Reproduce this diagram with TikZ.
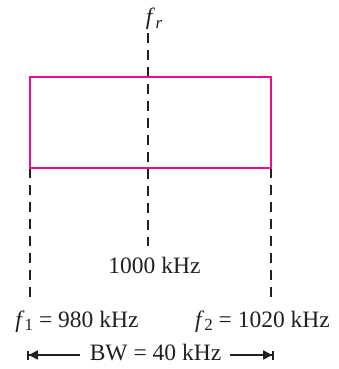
\documentclass[tikz,border=0pt]{standalone}
\usepackage{fontspec}
\setmainfont{Liberation Serif}
\usetikzlibrary{arrows.meta}
\definecolor{bandpink}{HTML}{E8108A}
\definecolor{inkdark}{HTML}{231F20}
\newcommand\fsubup[1]{\textit{f}\raisebox{-0.3ex}{\fontsize{17}{17}\selectfont #1}}
\newcommand\fsubit[1]{\textit{f}\kern0.5pt\raisebox{-0.3ex}{\fontsize{17}{17}\selectfont\itshape #1}}
\begin{document}
\begin{tikzpicture}[x=1pt,y=-1pt,
  lbl/.style={font=\fontsize{23.5}{26}\selectfont, inner sep=0pt, text=inkdark, anchor=base},
  guide/.style={draw=inkdark, line width=2.6pt, dash pattern=on 10pt off 7pt},
  band/.style={draw=bandpink, line width=2pt},
  bwarrow/.style={draw=inkdark, line width=1.6pt}]
\useasboundingbox (0,0) rectangle (338,369);
% coordinates
\coordinate (ctop) at (148,33);
\coordinate (cbot) at (148,246);
\coordinate (ltop) at (30,168);
\coordinate (lbot) at (30,298);
\coordinate (rtop) at (271,168);
\coordinate (rbot) at (271,298);
\coordinate (aleft) at (27,355);
\coordinate (aright) at (274,355);
% guides
\draw[guide] (ctop) -- (cbot);
\draw[guide] (ltop) -- (lbot);
\draw[guide] (rtop) -- (rbot);
% band
\draw[band] (30,77) rectangle (271,168);
% labels
\node[lbl] (fr) at (154,25) {\fsubit{r}};
\node[lbl] (fc) at (154.5,273) {1000 kHz};
\node[lbl] (f1) at (77,327) {\fsubup{1} = 980 kHz};
\node[lbl] (f2) at (262.5,327) {\fsubup{2} = 1020 kHz};
\node[lbl] (bw) at (155.5,360) {BW = 40 kHz};
\coordinate (bwl) at (80,355);
\coordinate (bwr) at (230,355);
\draw[bwarrow, {Bar[width=9pt,line width=1.8pt]Triangle[length=9pt,width=9pt]}-] (aleft) -- (bwl);
\draw[bwarrow, -{Triangle[length=9pt,width=9pt]Bar[width=9pt,line width=1.8pt]}] (bwr) -- (aright);
\end{tikzpicture}
\end{document}
